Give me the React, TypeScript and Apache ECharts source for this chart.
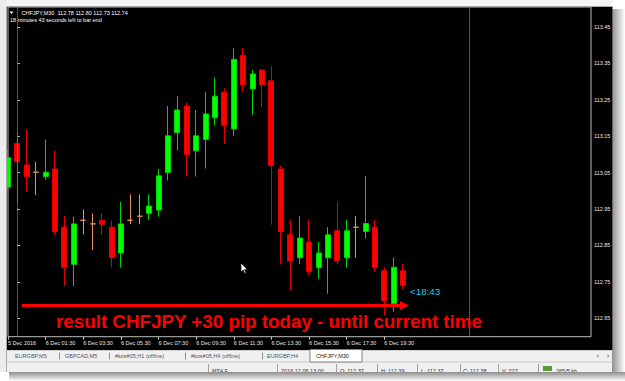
import React, { useEffect, useRef } from 'react';
import * as echarts from 'echarts';

// ---- data (bar index: 0 = 6 Dec 2016 00:00, M30 bars) ----
const barIndex = [-1, 0, 1, 2, 3, 4, 5, 6, 7, 8, 9, 10, 11, 12, 13, 14, 15, 16, 17, 18, 19, 20, 21, 22, 23, 24, 25, 26, 27, 28, 29, 30, 31, 32, 33, 34, 35, 36, 37, 38, 39, 40, 41];
const opens = [113.010, 113.130, 113.071, 113.051, 113.039, 113.060, 112.900, 112.798, 112.919, 112.909, 112.919, 112.900, 112.829, 112.919, 112.930, 112.938, 112.947, 113.050, 113.160, 113.233, 113.110, 113.141, 113.201, 113.271, 113.170, 113.372, 113.280, 113.332, 113.302, 113.060, 112.879, 112.816, 112.859, 112.789, 112.816, 112.890, 112.816, 112.900, 112.888, 112.900, 112.780, 112.690, 112.780];
const highs = [113.112, 113.162, 113.170, 113.080, 113.141, 113.110, 112.931, 112.929, 112.949, 112.938, 112.938, 112.918, 112.970, 112.990, 112.990, 112.990, 113.059, 113.233, 113.261, 113.242, 113.222, 113.271, 113.311, 113.282, 113.392, 113.392, 113.332, 113.332, 113.342, 113.069, 112.920, 112.930, 112.920, 112.859, 112.900, 112.970, 112.920, 112.930, 113.041, 112.920, 112.789, 112.817, 112.800];
const lows = [113.003, 112.968, 112.998, 112.988, 113.030, 112.879, 112.738, 112.738, 112.880, 112.837, 112.879, 112.789, 112.789, 112.908, 112.908, 112.920, 112.929, 113.028, 113.110, 113.039, 113.039, 113.061, 113.179, 113.129, 113.151, 113.271, 113.209, 113.231, 112.907, 112.798, 112.726, 112.798, 112.767, 112.758, 112.717, 112.798, 112.789, 112.816, 112.868, 112.778, 112.657, 112.668, 112.730];
const closes = [113.091, 113.080, 113.039, 113.051, 113.051, 112.888, 112.789, 112.909, 112.919, 112.909, 112.908, 112.816, 112.909, 112.919, 112.930, 112.958, 113.041, 113.151, 113.222, 113.100, 113.151, 113.211, 113.260, 113.179, 113.361, 113.291, 113.321, 113.291, 113.069, 112.888, 112.807, 112.870, 112.778, 112.829, 112.879, 112.807, 112.890, 112.900, 112.910, 112.789, 112.697, 112.790, 112.740];

const timeTickIndex = [-1, 3, 7, 11, 15, 19, 23, 27, 31, 35, 39];
const timeTickLabels = ['5 Dec 2016', '6 Dec 01:30', '6 Dec 03:30', '6 Dec 05:30', '6 Dec 07:30', '6 Dec 09:30', '6 Dec 11:30', '6 Dec 13:30', '6 Dec 15:30', '6 Dec 17:30', '6 Dec 19:30'];
const priceTicks = [112.65, 112.75, 112.85, 112.95, 113.05, 113.15, 113.25, 113.35, 113.45];
const daySeparators = [0, 48];
const currentPrice = 112.74;
const arrowLevel = 112.685;
const arrowFrom = 0.47;
const arrowTo = 41.14;

const titleText = 'CHFJPY,M30  112.78 112.80 112.73 112.74';
const timerText = '18 minutes 43 seconds left to bar end';
const resultText = 'result CHFJPY +30 pip today - until current time';
const countdownText = '<18:43';
const tabNames = ['EURGBP,M5', 'GBPCAD,M5', '#kos#05,H1 (offline)', '#kos#05,H4 (offline)', 'EURGBP,H4'];
const activeTab = 'CHFJPY,M30';
const statusTexts = ['MT4 F', '2016.12.06 13:00', 'O: 112.37', 'H: 112.39', 'L: 112.37', 'C: 112.38', 'V: 227', '265/5 kb'];

const FONT = '"Liberation Sans", Arial, sans-serif';

export default function App() {
  const ref = useRef<HTMLDivElement>(null);

  useEffect(() => {
    document.body.style.margin = '0';
    if (!ref.current) return;
    const chart = echarts.init(ref.current, undefined, { renderer: 'svg' });

    const tabX = [15, 65, 115, 191, 267];
    const tabSepX = [59, 109, 185, 262];
    const statusX = [212, 281, 340, 381, 421, 463, 502, 556];
    const statusSepX = [208, 277, 336, 377, 417, 460, 498, 538];

    const T = (text: string, x: number, y: number, size: number, fill: string, extra: any = {}) => ({
      type: 'text', x, y, z: 100, silent: true,
      style: { text, fill, fontSize: size, fontFamily: FONT, verticalAlign: 'middle', align: 'left', ...extra },
    });

    const graphic: any[] = [
      // window chrome
      { type: 'rect', z: 90, silent: true, shape: { x: 0, y: 0, width: 625, height: 7 }, style: { fill: '#F4F4F4' } },
      { type: 'rect', z: 90, silent: true, shape: { x: 0, y: 0, width: 7, height: 381 }, style: { fill: '#ECECEC' } },
      { type: 'line', z: 91, silent: true, shape: { x1: 6.5, y1: 6.5, x2: 6.5, y2: 372 }, style: { stroke: '#A8A8A8', lineWidth: 1 } },
      { type: 'line', z: 91, silent: true, shape: { x1: 6.5, y1: 6.5, x2: 612.5, y2: 6.5 }, style: { stroke: '#A8A8A8', lineWidth: 1 } },
      { type: 'rect', z: 90, silent: true, shape: { x: 612.5, y: 0, width: 13, height: 381 }, style: { fill: '#FFFFFF' } },
      {
        type: 'rect', z: 91, silent: true, shape: { x: 612.5, y: 9, width: 12.5, height: 372 },
        style: { fill: new echarts.graphic.LinearGradient(0, 0, 1, 0, [{ offset: 0, color: 'rgba(0,0,0,0.42)' }, { offset: 1, color: 'rgba(0,0,0,0)' }]) },
      },
      // tab bar
      { type: 'rect', z: 90, silent: true, shape: { x: 7, y: 350, width: 605.5, height: 12 }, style: { fill: '#F0F0F0' } },
      { type: 'line', z: 92, silent: true, shape: { x1: 7, y1: 350.5, x2: 612.5, y2: 350.5 }, style: { stroke: '#D0D0D0', lineWidth: 1 } },
      // status bar
      { type: 'rect', z: 90, silent: true, shape: { x: 7, y: 362, width: 605.5, height: 12 }, style: { fill: '#F0F0F0' } },
      { type: 'line', z: 92, silent: true, shape: { x1: 7, y1: 362, x2: 612.5, y2: 362 }, style: { stroke: '#C8C8C8', lineWidth: 1 } },
      { type: 'rect', z: 93, silent: true, shape: { x: 310, y: 349.5, width: 52, height: 12.5 }, style: { fill: '#FFFFFF', stroke: '#808080', lineWidth: 1 } },
      T(activeTab, 316, 356, 5.5, '#202020'),
      { type: 'polygon', z: 100, silent: true, shape: { points: [[598.5, 354], [598.5, 358], [596.5, 356]] }, style: { fill: '#909090' } },
      { type: 'polygon', z: 100, silent: true, shape: { points: [[607.5, 354], [607.5, 358], [609.5, 356]] }, style: { fill: '#909090' } },
      // chart header texts
      { type: 'polygon', z: 100, silent: true, shape: { points: [[9.5, 11.4], [13.5, 11.4], [11.5, 13.9]] }, style: { fill: '#FFFFFF' } },
      T(titleText, 21.5, 12.7, 5.5, '#FFFFFF'),
      T(timerText, 10, 19.5, 5.5, '#FFFFFF'),
      // annotations
      T(resultText, 56, 321.5, 18.8, '#FF0000', { fontWeight: 'bold' }),
      T(countdownText, 410, 291.5, 9.8, '#1ECCE4'),
      // mouse cursor
      {
        type: 'polygon', z: 100, silent: true,
        shape: { points: [[241, 263], [241, 272], [243.2, 270], [244.8, 273.6], [246.1, 273], [244.5, 269.6], [247.3, 269.6]] },
        style: { fill: '#FFFFFF', stroke: '#000000', lineWidth: 0.6 },
      },
    ];
    tabNames.forEach((n, i) => graphic.push(T(n, tabX[i], 356, 5.5, '#505068')));
    tabSepX.forEach((x) => graphic.push({ type: 'line', z: 95, silent: true, shape: { x1: x + 0.5, y1: 352.5, x2: x + 0.5, y2: 359.5 }, style: { stroke: '#909090', lineWidth: 1 } }));
    statusSepX.forEach((x) => graphic.push({ type: 'line', z: 95, silent: true, shape: { x1: x + 0.5, y1: 364, x2: x + 0.5, y2: 374 }, style: { stroke: '#A0A0A0', lineWidth: 1 } }));
    statusTexts.forEach((s, i) => graphic.push(T(s, statusX[i], 370.5, 5.5, '#303030')));
    graphic.push({ type: 'rect', z: 99, silent: true, shape: { x: 543, y: 366, width: 9, height: 5 }, style: { fill: '#5A9A3A' } });
    // bottom drop shadow (covers the cut-off status bar)
    graphic.push({ type: 'rect', z: 120, silent: true, shape: { x: 0, y: 372, width: 625, height: 9 }, style: { fill: '#FFFFFF' } });
    graphic.push({
      type: 'rect', z: 121, silent: true, shape: { x: 9, y: 372, width: 616, height: 9 },
      style: { fill: new echarts.graphic.LinearGradient(0, 0, 0, 1, [{ offset: 0, color: 'rgba(0,0,0,0.45)' }, { offset: 1, color: 'rgba(0,0,0,0)' }]) },
    });

    const option: any = {
      animation: false,
      backgroundColor: '#000000',
      textStyle: { fontFamily: FONT },
      grid: { left: 8, top: 7, width: 583, height: 329.7, show: true, borderColor: '#BDBDBD', borderWidth: 1, backgroundColor: 'transparent' },
      xAxis: {
        type: 'value', min: -1, max: 60.96,
        axisLine: { show: false },
        splitLine: { show: false },
        axisTick: { show: true, customValues: timeTickIndex, length: 3, lineStyle: { color: '#C0C0C0' } },
        axisLabel: {
          customValues: timeTickIndex, showMinLabel: true, showMaxLabel: true,
          formatter: (v: number) => timeTickLabels[timeTickIndex.indexOf(Math.round(v))] ?? '',
          align: 'left', fontSize: 5.5, color: '#E4E4E4', margin: 3, fontFamily: FONT,
        },
      },
      yAxis: {
        type: 'value', position: 'right', min: 112.599, max: 113.505,
        axisLine: { show: false },
        splitLine: { show: false },
        axisTick: { show: true, customValues: priceTicks, length: 2.5, lineStyle: { color: '#C0C0C0' } },
        axisLabel: {
          customValues: priceTicks, formatter: (v: number) => v.toFixed(2),
          fontSize: 5.5, color: '#E8E8E8', margin: 3, fontFamily: FONT,
        },
      },
      series: [
        {
          type: 'candlestick',
          data: barIndex.map((x, i) => [x, opens[i], closes[i], lows[i], highs[i]]),
          encode: { x: 0, y: [1, 2, 3, 4] },
          barWidth: 5.5,
          itemStyle: {
            color: '#00FF00', color0: '#FF0000',
            borderColor: '#00D400', borderColor0: '#E20000', borderColorDoji: '#E8905A', borderWidth: 1,
          },
          markLine: {
            silent: true, symbol: ['none', 'none'], label: { show: false },
            lineStyle: { color: '#9C9C9C', type: [1, 1], width: 1 },
            data: daySeparators.map((d) => ({ xAxis: d })),
          },
        },
        {
          type: 'line', data: [],
          markLine: {
            silent: true, symbol: ['none', 'triangle'], symbolSize: [9, 9], label: { show: false },
            lineStyle: { color: '#FF0000', width: 3, type: 'solid' },
            data: [[{ coord: [arrowFrom, arrowLevel] }, { coord: [arrowTo, arrowLevel] }]],
          },
        },
        {
          type: 'line', data: [],
          markLine: {
            silent: true, symbol: ['none', 'none'],
            lineStyle: { opacity: 0 },
            label: {
              show: true, position: 'end', distance: 1, formatter: currentPrice.toFixed(2),
              backgroundColor: '#FFFFFF', color: '#000000', fontSize: 5.5, padding: [0.5, 1.5], fontFamily: FONT,
            },
            data: [{ yAxis: currentPrice }],
          },
        },
      ],
      graphic: { elements: graphic },
    };

    chart.setOption(option);
    return () => chart.dispose();
  }, []);

  return <div ref={ref} style={{ position: 'fixed', left: 0, top: 0, width: 625, height: 381 }} />;
}
